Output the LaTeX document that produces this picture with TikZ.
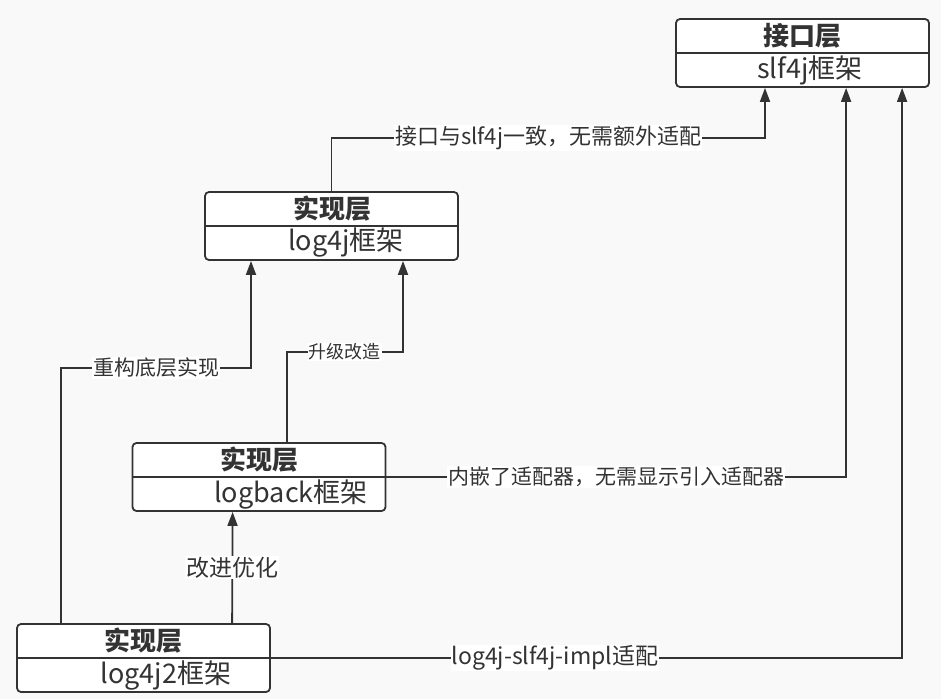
\documentclass[tikz,border=0pt]{standalone}
\usepackage{fontspec}
\setmainfont{Noto Sans CJK SC}
\usetikzlibrary{arrows.meta}
\definecolor{ln}{HTML}{333333}
\definecolor{bg}{HTML}{F9F9F9}
\begin{document}
\begin{tikzpicture}[x=1pt,y=-1pt,
  box/.style={draw=ln, line width=1.8pt, fill=white, rounded corners=4pt, minimum width=253pt, minimum height=68pt, inner sep=0pt},
  ttl/.style={font=\fontsize{26}{26}\selectfont\bfseries, text=ln, inner sep=0pt},
  sub/.style={font=\fontsize{27}{27}\selectfont, text=ln, inner sep=0pt},
  lbl/.style={fill=white, text=ln, inner sep=1pt, font=\fontsize{21}{21}\selectfont},
  con/.style={draw=ln, line width=1.8pt},
  arr/.style={con, -{Triangle[length=14pt,width=10pt]}}]
\fill[bg] (0,0) rectangle (941,699);
\useasboundingbox (0,0) rectangle (941,699);

% boxes
\node[box] (A) at (802.5,53) {};
\node[box] (B) at (331.5,226) {};
\node[box] (C) at (259,477) {};
\node[box] (D) at (143.5,658) {};
\foreach \b in {A,B,C,D} \draw[con] (\b.west) -- (\b.east);

\node[ttl] (At) at (802.5,36) {接口层};
\node[sub] (As) at (810,70) {slf4j框架};
\node[ttl] (Bt) at (332,209) {实现层};
\node[sub] (Bs) at (346,243) {log4j框架};
\node[ttl] (Ct) at (259,460) {实现层};
\node[sub] (Cs) at (291,494) {logback框架};
\node[ttl] (Dt) at (143.5,641) {实现层};
\node[sub] (Ds) at (166,675) {log4j2框架};

% bend points
\coordinate (k1) at (765,138);
\coordinate (k4) at (403,352);
\coordinate (k5) at (251,368);

% log4j -> slf4j
\draw[arr] (B.north) |- node[pos=0.75, lbl, font=\fontsize{22}{22}\selectfont] {接口与slf4j一致，无需额外适配} (k1) -- (k1 |- A.south);
% logback -> slf4j
\draw[arr] (C.east) -| node[pos=0.25, lbl] {内嵌了适配器，无需显示引入适配器} ([xshift=171pt]A.south west);
% log4j2 -> slf4j
\draw[arr] (D.east) -| node[pos=0.225, lbl, font=\fontsize{23}{23}\selectfont] {log4j-slf4j-impl适配} ([xshift=227pt]A.south west);
% logback -> log4j
\draw[arr] ([xshift=155pt]C.north west) |- node[pos=0.75, lbl, font=\fontsize{18}{18}\selectfont] {升级改造} (k4) -- (k4 |- B.south);
% log4j2 -> log4j
\draw[arr] ([xshift=45pt]D.north west) |- node[pos=0.75, lbl] {重构底层实现} (k5) -- (k5 |- B.south);
% log4j2 -> logback
\draw[arr] ([xshift=216pt]D.north west) -- node[lbl, font=\fontsize{23}{23}\selectfont] {改进优化} ([xshift=101pt]C.south west);
\end{tikzpicture}
\end{document}
